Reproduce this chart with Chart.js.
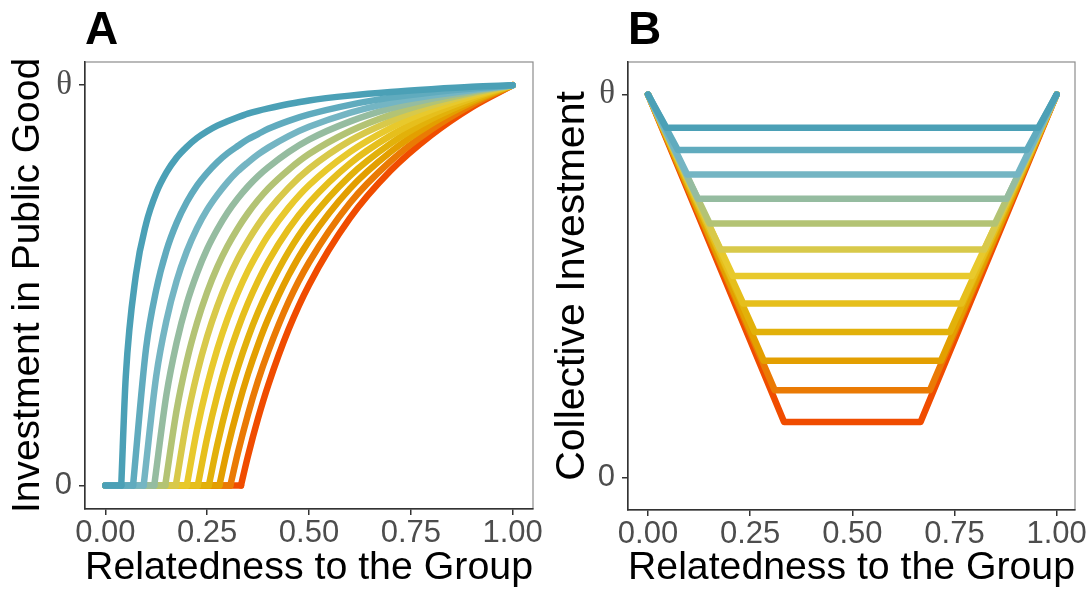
<!DOCTYPE html>
<html>
<head>
<meta charset="utf-8">
<script src="https://cdn.jsdelivr.net/npm/chart.js@4.4.0/dist/chart.umd.min.js"></script>
<style>
    html, body { margin: 0; padding: 0; background: #ffffff; }
    #wrap { position: relative; width: 1090px; height: 597px; overflow: hidden; }
    .panel { position: absolute; top: 0; width: 545px; height: 597px; }
</style>
</head>
<body>
<div id="wrap">
    <div class="panel" style="left:0px"><canvas id="chartA" width="545" height="597"></canvas></div>
    <div class="panel" style="left:545px"><canvas id="chartB" width="545" height="597"></canvas></div>
</div>
<script>
    // x positions where panel A curves are read
    var relatedness = [0.05, 0.075, 0.1, 0.125, 0.15, 0.175, 0.2, 0.225, 0.25, 0.275, 0.3, 0.325, 0.35, 0.375, 0.4, 0.45, 0.5, 0.6, 0.7, 0.8, 0.9, 1.0]

    // relatedness at which each curve leaves zero (panel A)
    var thresholds = [0.039, 0.068, 0.094, 0.12, 0.147, 0.173, 0.2, 0.227, 0.254, 0.28, 0.307, 0.333]

    // investment (share of theta), one row per curve, null before the curve starts
    var investment = [
        [0.270, 0.526, 0.654, 0.731, 0.782, 0.819, 0.846, 0.868, 0.885, 0.899, 0.910, 0.920, 0.929, 0.936, 0.942, 0.953, 0.962, 0.974, 0.983, 0.990, 0.996, 1],
        [null, null, 0.343, 0.489, 0.587, 0.656, 0.708, 0.749, 0.781, 0.808, 0.830, 0.848, 0.865, 0.878, 0.891, 0.911, 0.927, 0.951, 0.969, 0.982, 0.992, 1],
        [null, null, null, 0.274, 0.412, 0.511, 0.585, 0.643, 0.689, 0.726, 0.758, 0.785, 0.807, 0.827, 0.844, 0.873, 0.896, 0.931, 0.956, 0.974, 0.988, 1],
        [null, null, null, null, 0.227, 0.357, 0.455, 0.530, 0.591, 0.640, 0.682, 0.717, 0.747, 0.773, 0.795, 0.833, 0.864, 0.909, 0.942, 0.966, 0.985, 1],
        [null, null, null, null, null, 0.188, 0.311, 0.406, 0.483, 0.546, 0.598, 0.642, 0.680, 0.713, 0.742, 0.789, 0.828, 0.885, 0.926, 0.957, 0.981, 1],
        [null, null, null, null, null, null, 0.163, 0.279, 0.372, 0.448, 0.512, 0.566, 0.611, 0.651, 0.686, 0.744, 0.791, 0.861, 0.910, 0.948, 0.977, 1],
        [null, null, null, null, null, null, null, 0.139, 0.250, 0.341, 0.417, 0.481, 0.536, 0.583, 0.625, 0.694, 0.750, 0.833, 0.893, 0.938, 0.972, 1],
        [null, null, null, null, null, null, null, null, 0.119, 0.226, 0.315, 0.390, 0.455, 0.511, 0.560, 0.641, 0.706, 0.804, 0.874, 0.927, 0.967, 1],
        [null, null, null, null, null, null, null, null, null, 0.102, 0.206, 0.293, 0.368, 0.433, 0.489, 0.584, 0.660, 0.773, 0.854, 0.915, 0.962, 1],
        [null, null, null, null, null, null, null, null, null, null, 0.093, 0.192, 0.278, 0.352, 0.417, 0.525, 0.611, 0.741, 0.833, 0.903, 0.957, 1],
        [null, null, null, null, null, null, null, null, null, null, null, 0.080, 0.177, 0.262, 0.335, 0.459, 0.557, 0.705, 0.810, 0.889, 0.951, 1],
        [null, null, null, null, null, null, null, null, null, null, null, null, 0.073, 0.168, 0.251, 0.390, 0.501, 0.667, 0.786, 0.875, 0.945, 1]
    ]

    // panel B: flat part of each collective investment line
    var flatStart = [0.045, 0.073, 0.096, 0.122, 0.151, 0.177, 0.208, 0.233, 0.261, 0.283, 0.310, 0.333]
    var flatEnd = [0.955, 0.927, 0.904, 0.878, 0.849, 0.823, 0.792, 0.767, 0.739, 0.717, 0.690, 0.667]
    var collective = [0.913, 0.855, 0.791, 0.728, 0.663, 0.595, 0.526, 0.454, 0.380, 0.305, 0.228, 0.145]

    var lineColors = ['#4BA0B6', '#60ABBE', '#74B5C3', '#95BCA0', '#B3C374', '#D8C94A',
                      '#E8C92C', '#E6BF1C', '#E2B10A', '#E39F00', '#EA7A04', '#F04C00']

    var xTicks = [0, 0.25, 0.5, 0.75, 1]
    var xTickLabels = ['0.00', '0.25', '0.50', '0.75', '1.00']
    var yTicks = [0, 1]
    var yTickLabels = ['0', 'θ']

    var sans = "'Liberation Sans', Arial, Helvetica, sans-serif"
    var serif = "'Liberation Serif', 'DejaVu Serif', serif"

    var panelBorder = {
        id: 'panelBorder',
        beforeDraw: function(chart) {
            var a = chart.chartArea
            var ctx = chart.ctx
            ctx.save()
            ctx.strokeStyle = '#8c8c8c'
            ctx.lineWidth = 1.2
            ctx.strokeRect(a.left, a.top, a.right - a.left, a.bottom - a.top)
            ctx.restore()
        }
    }

    function makeOptions(cfg) {
        return {
            responsive: false,
            animation: false,
            events: [],
            layout: { padding: { top: 0, right: cfg.rightPad, bottom: 0, left: 0 } },
            elements: {
                point: { radius: 0 },
                line: { borderWidth: 6.5, borderCapStyle: 'round', borderJoinStyle: 'round', fill: false }
            },
            plugins: {
                legend: { display: false },
                tooltip: { enabled: false },
                title: {
                    display: true,
                    text: cfg.letter,
                    align: 'start',
                    fullSize: false,
                    color: '#000000',
                    font: { family: sans, size: 46, weight: 'bold', lineHeight: 1 },
                    padding: { top: 8, bottom: 8 }
                }
            },
            scales: {
                x: {
                    type: 'linear',
                    min: cfg.xMin,
                    max: cfg.xMax,
                    afterBuildTicks: function(scale) {
                        scale.ticks = xTicks.map(function(v) { return { value: v } })
                    },
                    afterFit: function(scale) { scale.height = cfg.xHeight },
                    ticks: {
                        autoSkip: false,
                        maxRotation: 0,
                        color: '#4D4D4D',
                        padding: 0,
                        font: { family: sans, size: 31 },
                        callback: function(value, index) { return xTickLabels[index] }
                    },
                    grid: { display: true, drawOnChartArea: false, drawTicks: true, tickLength: 6, color: '#333333', lineWidth: 1.5 },
                    border: { display: true, color: '#333333', width: 1.5 },
                    title: {
                        display: true,
                        text: 'Relatedness to the Group',
                        color: '#000000',
                        font: { family: sans, size: 39.5, lineHeight: 1 },
                        padding: { top: 0, bottom: 9 }
                    }
                },
                y: {
                    type: 'linear',
                    min: cfg.yMin,
                    max: cfg.yMax,
                    afterBuildTicks: function(scale) {
                        scale.ticks = yTicks.map(function(v) { return { value: v } })
                    },
                    afterFit: function(scale) { scale.width = cfg.yWidth },
                    ticks: {
                        autoSkip: false,
                        color: '#4D4D4D',
                        padding: 7,
                        font: function(ctx) {
                            if (ctx.tick && ctx.tick.value === 1) return { family: serif, size: 33 }
                            return { family: sans, size: 31 }
                        },
                        callback: function(value, index) { return yTickLabels[index] }
                    },
                    grid: { display: true, drawOnChartArea: false, drawTicks: true, tickLength: 6, color: '#333333', lineWidth: 1.5 },
                    border: { display: true, color: '#333333', width: 1.5 },
                    title: {
                        display: true,
                        text: cfg.yTitle,
                        color: '#000000',
                        font: { family: sans, size: cfg.yTitleSize, lineHeight: 1 },
                        padding: { top: cfg.yTitlePad, bottom: 0 }
                    }
                }
            }
        }
    }

    // panel A: blue first so it is drawn on top
    var datasetsA = []
    for (var i = 0; i < thresholds.length; i++) {
        var rising = [{ x: thresholds[i], y: 0 }]
        for (var j = 0; j < relatedness.length; j++) {
            if (investment[i][j] !== null) rising.push({ x: relatedness[j], y: investment[i][j] })
        }
        datasetsA.push({
            data: rising,
            borderColor: lineColors[i],
            cubicInterpolationMode: 'monotone'
        })
        datasetsA.push({
            data: [{ x: 0, y: 0 }, { x: thresholds[i], y: 0 }],
            borderColor: lineColors[i],
            tension: 0
        })
    }

    new Chart(document.getElementById('chartA').getContext('2d'), {
        type: 'line',
        data: { datasets: datasetsA },
        options: makeOptions({
            letter: 'A', rightPad: 12, xHeight: 88, yWidth: 85, yTitlePad: 9, yTitleSize: 39,
            xMin: -0.05, xMax: 1.05, yMin: -0.059, yMax: 1.058,
            yTitle: 'Investment in Public Good'
        }),
        plugins: [panelBorder]
    })

    var datasetsB = []
    for (var k = 0; k < collective.length; k++) {
        datasetsB.push({
            data: [
                { x: 0, y: 1 },
                { x: flatStart[k], y: collective[k] },
                { x: flatEnd[k], y: collective[k] },
                { x: 1, y: 1 }
            ],
            borderColor: lineColors[k],
            tension: 0
        })
    }

    new Chart(document.getElementById('chartB').getContext('2d'), {
        type: 'line',
        data: { datasets: datasetsB },
        options: makeOptions({
            letter: 'B', rightPad: 15, xHeight: 87, yWidth: 83, yTitlePad: 7, yTitleSize: 41,
            xMin: -0.049, xMax: 1.045, yMin: -0.085, yMax: 1.085,
            yTitle: 'Collective Investment'
        }),
        plugins: [panelBorder]
    })
</script>
</body>
</html>
